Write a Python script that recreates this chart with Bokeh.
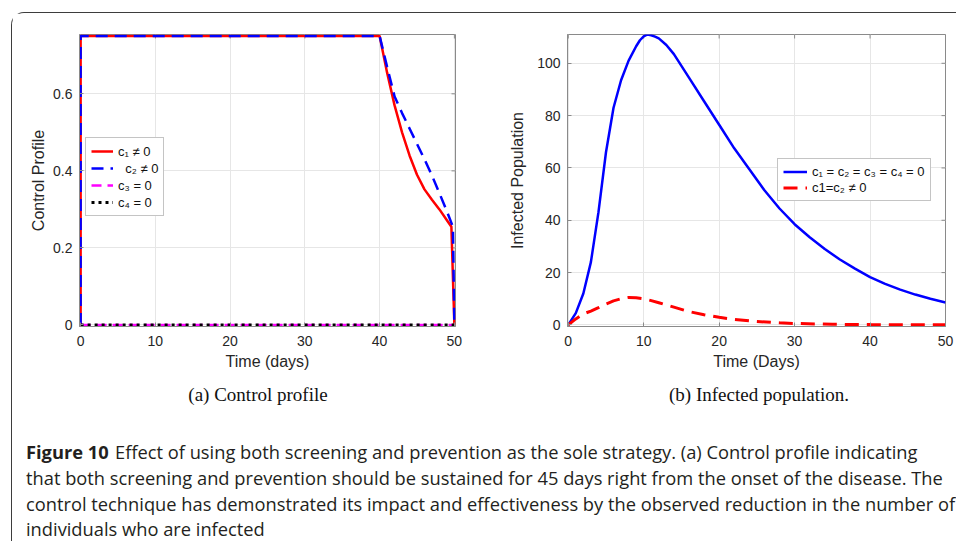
import math
from bokeh.plotting import figure
from bokeh.models import Range1d, Legend, LegendItem, Label
from bokeh.layouts import column, row
from bokeh.embed import file_html
from bokeh.resources import INLINE

# ---------------- data ----------------
x_ticks = [0, 10, 20, 30, 40, 50]
ctrl_y_ticks = [0, 0.2, 0.4, 0.6]
inf_y_ticks = [0, 20, 40, 60, 80, 100]

t_c1 = [0, 0, 40, 41, 42, 43, 44, 45, 46, 47, 48, 49, 49.6, 50]
c1 = [0, 0.75, 0.75, 0.655, 0.57, 0.50, 0.44, 0.39, 0.352, 0.325, 0.30, 0.272, 0.255, 0]
t_c2 = [0, 0, 40, 41, 42, 43, 44, 45, 46, 47, 48, 49, 49.8, 50]
c2 = [0, 0.75, 0.75, 0.67, 0.593, 0.55, 0.51, 0.47, 0.43, 0.388, 0.342, 0.295, 0.255, 0]
t_c34 = [0, 50]
c3 = [0, 0]
c4 = [0, 0]

t_inf = [0, 1, 2, 3, 4, 5, 6, 7, 8, 9, 9.5, 10, 10.5, 11, 11.5, 12, 13, 14, 16, 18, 20, 22, 24,
         26, 28, 30, 32, 34, 36, 38, 40, 42, 44, 46, 48, 50]
inf_no_control = [0, 4.5, 12, 24, 43, 66, 83, 93.5, 101, 106.5, 108.8, 110.3, 111, 110.7, 110.2,
                  109.5, 107, 103.5, 94.5, 85.5, 76.5, 67.5, 59.5, 51.5, 44.5, 38.5, 33.5, 29,
                  25, 21.5, 18.3, 15.7, 13.5, 11.6, 10, 8.6]
t_ctl = [0, 1, 2, 3, 4, 5, 6, 7, 8, 9, 10, 11, 12, 14, 16, 18, 20, 22, 25, 28, 30, 35, 40, 45, 50]
inf_control = [0, 2.3, 4.2, 5.3, 6.6, 8.0, 9.2, 10.0, 10.5, 10.4, 10.0, 9.3, 8.5, 6.8, 5.1,
               3.9, 2.9, 2.1, 1.3, 0.8, 0.55, 0.25, 0.12, 0.06, 0.03]

legend_a = ["c\u2081 \u2260 0", "\u00a0\u00a0c\u2082 \u2260 0", "c\u2083 = 0", "c\u2084 = 0"]
legend_b = ["c\u2081 = c\u2082 = c\u2083 = c\u2084 = 0", "c1=c\u2082 \u2260 0"]

sub_captions = ["(a) Control profile", "(b) Infected population."]
caption_first = "Figure 10"
caption_lines = [
    "Effect of using both screening and prevention as the sole strategy. (a) Control profile indicating",
    "that both screening and prevention should be sustained for 45 days right from the onset of the disease. The",
    "control technique has demonstrated its impact and effectiveness by the observed reduction in the number of",
    "individuals who are infected",
]

FONT = "Liberation Sans"
BOX = "#8a8a8a"
TXT = "#262626"


def style_plot(p, xt, yt, ylabel, xlabel, ylab_standoff, xmax, ymax):
    p.outline_line_color = BOX
    p.outline_line_width = 1
    p.xgrid.grid_line_color = "#e6e6e6"
    p.ygrid.grid_line_color = "#e6e6e6"
    p.xaxis.ticker = xt
    p.yaxis.ticker = yt
    for ax in p.xaxis + p.yaxis:
        ax.axis_line_color = BOX
        ax.major_tick_line_color = BOX
        ax.major_tick_in = 4
        ax.major_tick_out = 0
        ax.minor_tick_line_color = None
        ax.major_label_text_font = FONT
        ax.major_label_text_font_size = "14px"
        ax.major_label_text_color = TXT
        ax.major_label_standoff = 7
        ax.axis_label_text_font = FONT
        ax.axis_label_text_font_size = "16px"
        ax.axis_label_text_font_style = "normal"
        ax.axis_label_text_color = TXT
    p.xaxis.major_label_standoff = 9
    p.xaxis.axis_label = xlabel
    p.yaxis.axis_label = ylabel
    p.xaxis.axis_label_standoff = 4
    p.yaxis.axis_label_standoff = ylab_standoff
    p.yaxis.major_label_overrides = {0: "0"}
    # mirrored inner ticks on the top and right edges of the box
    p.scatter(x=xt, y=[ymax] * len(xt), marker="dash", angle=math.pi / 2, size=8,
              line_color=BOX, line_width=1)
    p.scatter(x=[xmax] * len(yt), y=yt, marker="dash", size=8, line_color=BOX, line_width=1)


PH = 361
# ---------------- (a) control profile ----------------
p1 = figure(width=487, height=PH, x_range=Range1d(-0.15, 50.15), y_range=Range1d(-0.004, 0.754),
            output_backend="svg", toolbar_location=None,
            min_border_left=67, min_border_right=44, min_border_top=21, min_border_bottom=48)
style_plot(p1, x_ticks, ctrl_y_ticks, "Control Profile", "Time (days)", 3, 50.15, 0.754)
r1 = p1.line(t_c1, c1, line_color="#ff0000", line_width=2.5)
r2 = p1.line(t_c2, c2, line_color="#0000ff", line_width=2.5, line_dash="12 7")
r3 = p1.line(t_c34, c3, line_color="#ff00ff", line_width=2.5, line_dash="10 6")
r4 = p1.line(t_c34, c4, line_color="#000000", line_width=3, line_dash="3 4")
leg1 = Legend(items=[LegendItem(label=l, renderers=[r]) for l, r in zip(legend_a, [r1, r2, r3, r4])],
              location=(6, 110), margin=0, padding=5, spacing=1, label_height=16,
              glyph_height=16, glyph_width=22, label_standoff=5,
              label_text_font=FONT, label_text_font_size="13px", label_text_color="#111111",
              border_line_color=BOX, background_fill_color="white", background_fill_alpha=1)
p1.add_layout(leg1)

# ---------------- (b) infected population ----------------
p2 = figure(width=456, height=PH, x_range=Range1d(-0.1, 50), y_range=Range1d(-0.6, 111),
            output_backend="svg", toolbar_location=None,
            min_border_left=68, min_border_right=10, min_border_top=21, min_border_bottom=48)
style_plot(p2, x_ticks, inf_y_ticks, "Infected Population", "Time (Days)", 8, 50, 111)
rb = p2.line(t_inf, inf_no_control, line_color="#0000ff", line_width=2.5)
rr = p2.line(t_ctl, inf_control, line_color="#ff0000", line_width=3, line_dash="14 8")
leg2 = Legend(items=[LegendItem(label=l, renderers=[r]) for l, r in zip(legend_b, [rb, rr])],
              location=(210, 125), margin=0, padding=5, spacing=1, label_height=15,
              glyph_height=15, glyph_width=24, label_standoff=5,
              label_text_font=FONT, label_text_font_size="13px", label_text_color="#111111",
              border_line_color=BOX, background_fill_color="white", background_fill_alpha=1)
p2.add_layout(leg2)

# ---------------- captions ----------------
W3, H3 = 944, 167
p3 = figure(width=W3, height=H3, x_range=Range1d(0, W3), y_range=Range1d(H3, 0),
            output_backend="svg", toolbar_location=None, min_border=0,
            x_axis_type=None, y_axis_type=None, outline_line_color=None)
p3.grid.visible = False
for txt, cx in zip(sub_captions, (245.5, 746.5)):
    p3.add_layout(Label(x=cx, y=19.5, text=txt, text_font="Liberation Serif",
                        text_font_size="19px", text_align="center", text_baseline="middle",
                        text_color="#111111"))
CAP_FONT = "Open Sans"
CAP_SIZE = "18.3px"
CAP_COL = "#231f20"
p3.add_layout(Label(x=13.5, y=76.5, text=caption_first, text_font=CAP_FONT,
                    text_font_style="bold", text_font_size=CAP_SIZE, text_baseline="middle",
                    text_color=CAP_COL))
line_y = [76.5, 102.5, 128.5, 153.5]
line_x = [102.5, 13.5, 13.5, 13.5]
for txt, lx, ly in zip(caption_lines, line_x, line_y):
    p3.add_layout(Label(x=lx, y=ly, text=txt, text_font=CAP_FONT, text_font_size=CAP_SIZE,
                        text_baseline="middle", text_color=CAP_COL))

layout = column(row(p1, p2), p3,
                styles={"border-top": "1.5px solid #3d3d3d",
                        "border-left": "1.5px solid #3d3d3d",
                        "border-top-left-radius": "13px",
                        "margin-left": "11px", "margin-top": "12px"})

open("out.html", "w").write(file_html(layout, INLINE))
